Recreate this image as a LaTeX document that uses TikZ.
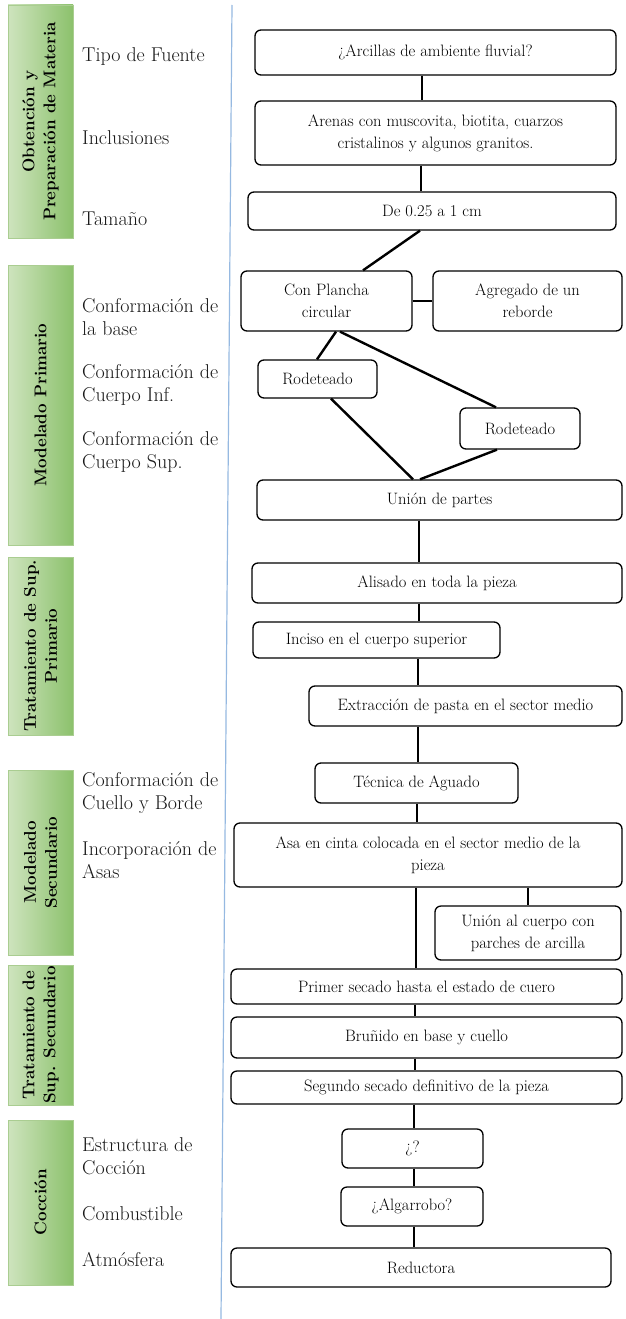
\documentclass[tikz,border=0pt]{standalone}
\usetikzlibrary{calc}
\definecolor{barL}{RGB}{206,228,190}
\definecolor{barR}{RGB}{140,193,108}
\definecolor{barE}{RGB}{170,205,145}
\definecolor{sep}{RGB}{150,185,225}
\definecolor{lbltxt}{RGB}{25,25,25}
\begin{document}
\begin{tikzpicture}[x=1pt,y=-1pt,
  bx/.style={draw, rounded corners=6pt, line width=1.3pt, align=center,
    font=\fontsize{16.5}{22}\selectfont, inner sep=0pt},
  conn/.style={line width=2.4pt},
  barbox/.style={draw=barE, line width=0.8pt, left color=barL, right color=barR, inner sep=0pt},
  bartext/.style={rotate=90, font=\bfseries\fontsize{17}{21}\selectfont, align=center, inner sep=0pt},
  lbl/.style={anchor=west, align=left, text=lbltxt, font=\fontsize{20}{23}\selectfont, inner sep=0pt}]
\useasboundingbox (0,0) rectangle (625,1319);
\fill[white] (0,0) rectangle (625,1319);
% separator
\coordinate (sT) at (232,5);
\coordinate (sB) at (221,1319);
\draw[sep, line width=1.2pt] (sT) -- (sB);
% green bars
\node[barbox, minimum width=65pt, minimum height=233pt] (g1) at (40.5,121.5) {};
\node[bartext] at (g1) {Obtención y\\Preparación de Materia};
\node[barbox, minimum width=65pt, minimum height=280pt] (g2) at (40.5,405) {};
\node[bartext] at (g2) {Modelado Primario};
\node[barbox, minimum width=65pt, minimum height=178pt] (g3) at (40.5,646) {};
\node[bartext] at (g3) {Tratamiento de Sup.\\Primario};
\node[barbox, minimum width=65pt, minimum height=185pt] (g4) at (40.5,862.5) {};
\node[bartext] at (g4) {Modelado\\Secundario};
\node[barbox, minimum width=65pt, minimum height=140pt] (g5) at (40.5,1035) {};
\node[bartext] at (g5) {Tratamiento de\\Sup. Secundario};
\node[barbox, minimum width=65pt, minimum height=165pt] (g6) at (40.5,1202.5) {};
\node[bartext] at (g6) {Cocción};
% left labels
\node[lbl] (l1) at (82,57) {Tipo de Fuente};
\node[lbl] (l2) at (82,138) {Inclusiones};
\node[lbl] (l3) at (82,219) {Tamaño};
\node[lbl] (l4) at (82,317) {Conformación de\\la base};
\node[lbl] (l5) at (82,385) {Conformación de\\Cuerpo Inf.};
\node[lbl] (l6) at (82,452) {Conformación de\\Cuerpo Sup.};
\node[lbl] (l7) at (82,793) {Conformación de\\Cuello y Borde};
\node[lbl] (l8) at (82,860) {Incorporación de\\Asas};
\node[lbl] (l9) at (82,1156) {Estructura de\\Cocción};
\node[lbl] (l10) at (82,1214) {Combustible};
\node[lbl] (l11) at (82,1259) {Atmósfera};
% boxes
\node[bx, minimum width=361pt, minimum height=45pt] (b1) at (435.5,52.5) {¿Arcillas de ambiente fluvial?};
\node[bx, minimum width=361pt, minimum height=64pt] (b2) at (435.5,133) {Arenas con muscovita, biotita, cuarzos\\cristalinos y algunos granitos.};
\node[bx, minimum width=368pt, minimum height=38pt] (b3) at (432,211) {De 0.25 a 1 cm};
\node[bx, minimum width=171pt, minimum height=60pt] (b4) at (326.5,301) {Con Plancha\\circular};
\node[bx, minimum width=189pt, minimum height=60pt] (b5) at (527.5,301) {Agregado de un\\reborde};
\node[bx, minimum width=119pt, minimum height=38pt] (b6) at (317.5,379) {Rodeteado};
\node[bx, minimum width=120pt, minimum height=41pt] (b7) at (520,428.5) {Rodeteado};
\node[bx, minimum width=365pt, minimum height=40pt] (b8) at (439.5,500) {Unión de partes};
\node[bx, minimum width=370pt, minimum height=40pt] (b9) at (437,583) {Alisado en toda la pieza};
\node[bx, minimum width=247pt, minimum height=36pt] (b10) at (376.5,640) {Inciso en el cuerpo superior};
\node[bx, minimum width=313pt, minimum height=40pt] (b11) at (465.5,706) {Extracción de pasta en el sector medio};
\node[bx, minimum width=203pt, minimum height=40pt] (b12) at (416.5,783) {Técnica de Aguado};
\node[bx, minimum width=388pt, minimum height=64pt] (b13) at (428,855) {Asa en cinta colocada en el sector medio de la\\pieza};
\node[bx, minimum width=186pt, minimum height=54pt] (b14) at (528,933) {Unión al cuerpo con\\parches de arcilla};
\node[bx, minimum width=391pt, minimum height=35pt] (b15) at (426.5,986.5) {Primer secado hasta el estado de cuero};
\node[bx, minimum width=391pt, minimum height=41pt] (b16) at (426.5,1037.5) {Bruñido en base y cuello};
\node[bx, minimum width=391pt, minimum height=33pt] (b17) at (426.5,1087.5) {Segundo secado definitivo de la pieza};
\node[bx, minimum width=141pt, minimum height=39pt] (b18) at (412.5,1148.5) {¿?};
\node[bx, minimum width=142pt, minimum height=39pt] (b19) at (412,1206.5) {¿Algarrobo?};
\node[bx, minimum width=380pt, minimum height=39pt] (b20) at (421,1267.5) {Reductora};
% x references for connectors
\foreach \xx in {317,331,336,340,363,413,414,415,416,417,418,419,420,421,422,496,497,528}
  \coordinate (X\xx) at (\xx,0);
% connectors
\draw[conn] (b1.south -| X422) -- (b2.north -| X422);
\draw[conn] (b2.south -| X421) -- (b3.north -| X421);
\draw[conn] (b3.south -| X420) -- (b4.north -| X363);
\draw[conn] (b4.east) -- (b5.west);
\draw[conn] (b4.south -| X336) -- (b6.north -| X317);
\draw[conn] (b4.south -| X340) -- (b7.north -| X496);
\draw[conn] (b6.south -| X331) -- (b8.north -| X413);
\draw[conn] (b7.south -| X497) -- (b8.north -| X420);
\draw[conn] (b8.south -| X419) -- (b9.north -| X419);
\draw[conn] (b9.south -| X419) -- (b10.north -| X419);
\draw[conn] (b10.south -| X418) -- (b11.north -| X418);
\draw[conn] (b11.south -| X418) -- (b12.north -| X418);
\draw[conn] (b12.south -| X417) -- (b13.north -| X417);
\draw[conn] (b13.south -| X416) -- (b15.north -| X416);
\draw[conn] (b13.south -| X528) -- (b14.north -| X528);
\draw[conn] (b15.south -| X415) -- (b16.north -| X415);
\draw[conn] (b16.south -| X415) -- (b17.north -| X415);
\draw[conn] (b17.south -| X414) -- (b18.north -| X414);
\draw[conn] (b18.south -| X414) -- (b19.north -| X414);
\draw[conn] (b19.south -| X414) -- (b20.north -| X414);
\end{tikzpicture}
\end{document}
